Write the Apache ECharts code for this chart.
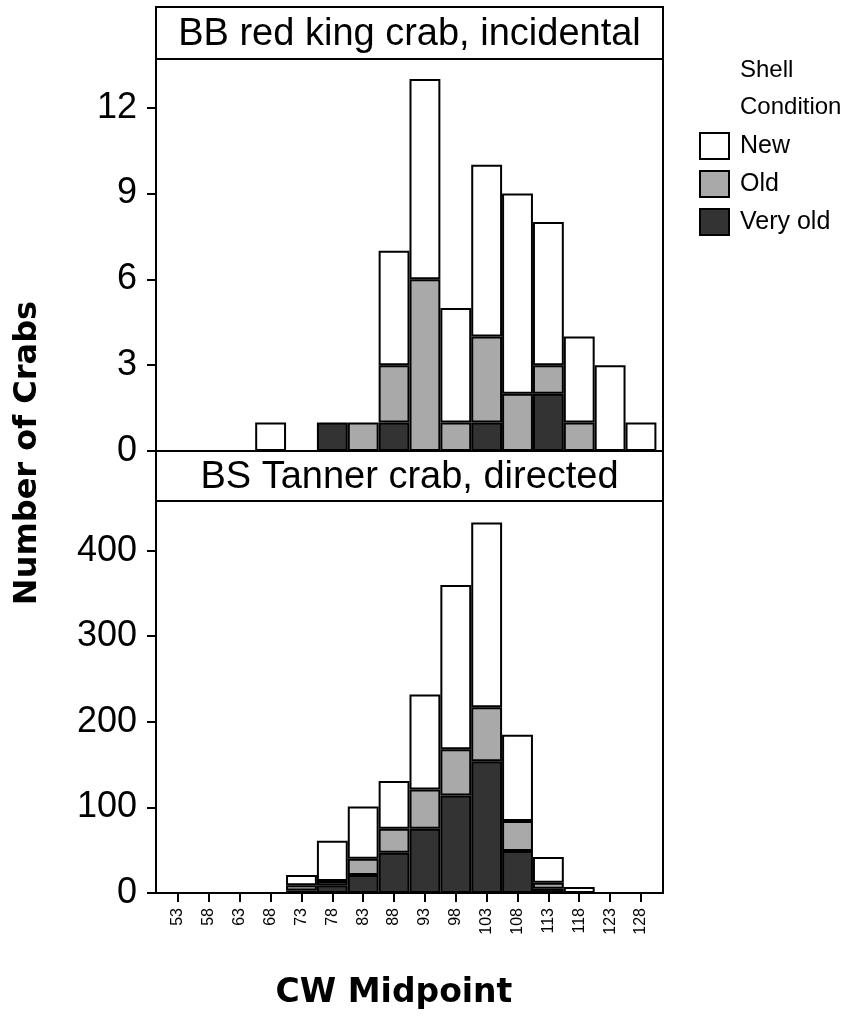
<!DOCTYPE html>
<html>
<head>
<meta charset="utf-8">
<script src="https://cdn.jsdelivr.net/npm/echarts@6/dist/echarts.min.js"></script>
<style>
  html, body { margin: 0; padding: 0; background: #fff; }
  #chart { width: 852px; height: 1017px; }
</style>
</head>
<body>
<div id="chart"></div>
<script>
// Carapace-width bins (mm midpoints)
const binMid = ['53', '58', '63', '68', '73', '78', '83', '88', '93', '98', '103', '108', '113', '118', '123', '128'];

// BB red king crab, incidental catch, by shell condition
const rkcNew     = [0, 0, 0, 1, 0, 0, 0, 4, 7, 4, 6, 7, 5, 3, 3, 1];
const rkcOld     = [0, 0, 0, 0, 0, 0, 1, 2, 6, 1, 3, 2, 1, 1, 0, 0];
const rkcVeryOld = [0, 0, 0, 0, 0, 1, 0, 1, 0, 0, 1, 0, 2, 0, 0, 0];

// BS Tanner crab, directed catch, by shell condition
const tanNew     = [0, 0, 0, 0, 12, 47, 61, 56, 111, 192, 216, 101, 30, 7, 0, 0];
const tanOld     = [0, 0, 0, 0, 6, 5, 19, 28, 46, 54, 63, 35, 7, 0, 0, 0];
const tanVeryOld = [0, 0, 0, 0, 3, 9, 21, 47, 75, 114, 154, 49, 5, 0, 0, 0];

// Axis ticks
const rkcTicks = [0, 3, 6, 9, 12];
const tanTicks = [0, 100, 200, 300, 400];

const panelTitles = ['BB red king crab, incidental', 'BS Tanner crab, directed'];
const conditions = ['New', 'Old', 'Very old'];
const fills = { 'New': '#ffffff', 'Old': '#a9a9a9', 'Very old': '#333333' };

// Layout: outer panel frame, and the inner band area used by the bins
const frameLeft = 156, frameWidth = 507;
const sidePad = 6.6;                       // frame edge to first/last band
const bandLeft = frameLeft + sidePad, bandWidth = frameWidth - 2 * sidePad;
const panels = [
  { stripTop: 7,   stripH: 52, top: 59,  height: 392 },
  { stripTop: 451, stripH: 50, top: 501, height: 392 }
];

const FONT = 'Liberation Sans, Arial, sans-serif';

function cleaned(vals) {
  return vals.map(v => (v === 0 ? null : v));
}

function panelSeries(idx, stackName, byCond) {
  return ['Very old', 'Old', 'New'].map(c => ({
    name: c,
    type: 'bar',
    xAxisIndex: idx,
    yAxisIndex: idx,
    stack: stackName,
    barWidth: '100%',
    data: cleaned(byCond[c]),
    itemStyle: { color: fills[c], borderColor: '#000', borderWidth: 2 },
    emphasis: { disabled: true },
    silent: true
  }));
}

const chart = echarts.init(document.getElementById('chart'), null, { renderer: 'canvas' });

const option = {
  backgroundColor: '#fff',
  animation: false,
  grid: panels.map(p => ({
    left: bandLeft, width: bandWidth, top: p.top, height: p.height, show: false
  })),
  xAxis: [0, 1].map(i => ({
    type: 'category',
    gridIndex: i,
    data: binMid,
    boundaryGap: true,
    axisLine: { show: false },
    splitLine: { show: false },
    axisTick: i === 1
      ? { show: true, alignWithLabel: true, length: 9, lineStyle: { color: '#000', width: 2 } }
      : { show: false },
    axisLabel: i === 1
      ? { show: true, rotate: 90, margin: 15, fontSize: 16, color: '#000', fontFamily: FONT, interval: 0 }
      : { show: false }
  })),
  yAxis: [
    { max: 13.7, ticks: rkcTicks },
    { max: 458, ticks: tanTicks }
  ].map((a, i) => ({
    type: 'value', gridIndex: i, min: 0, max: a.max,
    offset: sidePad,
    splitLine: { show: false },
    axisLine: { show: false },
    axisTick: { show: true, length: 9, lineStyle: { color: '#000', width: 2 }, customValues: a.ticks },
    axisLabel: {
      show: true, margin: 19, fontSize: 36, color: '#000', fontFamily: FONT,
      customValues: a.ticks
    }
  })),
  legend: {
    data: conditions,
    orient: 'vertical',
    left: 694, top: 127,
    itemWidth: 29, itemHeight: 26, itemGap: 10,
    icon: 'rect',
    selectedMode: false,
    itemStyle: { borderColor: '#000', borderWidth: 2 },
    textStyle: { fontSize: 25, color: '#000', fontFamily: FONT, padding: [0, 0, 0, 6] }
  },
  series: [].concat(
    panelSeries(0, 'rkc', { 'New': rkcNew, 'Old': rkcOld, 'Very old': rkcVeryOld }),
    panelSeries(1, 'tan', { 'New': tanNew, 'Old': tanOld, 'Very old': tanVeryOld })
  ),
  graphic: [].concat(
    panels.map((p, i) => ({
      type: 'group',
      children: [
        // panel frame
        { type: 'rect', shape: { x: frameLeft, y: p.top, width: frameWidth, height: p.height },
          style: { fill: null, stroke: '#000', lineWidth: 2 }, z: 10 },
        // strip with panel title
        { type: 'rect', shape: { x: frameLeft, y: p.stripTop, width: frameWidth, height: p.stripH },
          style: { fill: '#fff', stroke: '#000', lineWidth: 2 }, z: 10 },
        { type: 'text', x: frameLeft + frameWidth / 2, y: p.stripTop + p.stripH / 2 + 2, z: 11,
          style: { text: panelTitles[i], font: '38px ' + FONT, fill: '#000', align: 'center', verticalAlign: 'middle' } }
      ]
    })),
    [
      { type: 'text', x: 740, y: 52,
        style: { text: 'Shell\nCondition', font: '24px ' + FONT, fill: '#000', lineHeight: 37, align: 'left', verticalAlign: 'top' } },
      { type: 'text', x: 28, y: 453, rotation: Math.PI / 2,
        style: { text: 'Number of Crabs', font: 'bold 32px DejaVu Sans, sans-serif', fill: '#000', align: 'center', verticalAlign: 'middle' } },
      { type: 'text', x: 394, y: 993,
        style: { text: 'CW Midpoint', font: 'bold 33px DejaVu Sans, sans-serif', fill: '#000', align: 'center', verticalAlign: 'middle' } }
    ]
  )
};

chart.setOption(option);
</script>
</body>
</html>
